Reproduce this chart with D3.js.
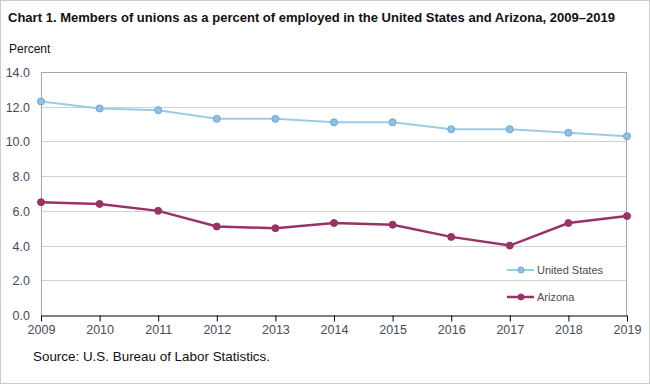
<!DOCTYPE html>
<html>
<head>
<meta charset="utf-8">
<script src="https://cdn.jsdelivr.net/npm/d3@7"></script>
<style>
  body { margin: 0; background: #fff; }
  text { font-family: "Liberation Sans", Arial, sans-serif; }
</style>
</head>
<body>
<script>
// chart data
var years = [2009, 2010, 2011, 2012, 2013, 2014, 2015, 2016, 2017, 2018, 2019];
var unitedStates = [12.3, 11.9, 11.8, 11.3, 11.3, 11.1, 11.1, 10.7, 10.7, 10.5, 10.3];
var arizona = [6.5, 6.4, 6.0, 5.1, 5.0, 5.3, 5.2, 4.5, 4.0, 5.3, 5.7];
var yTicks = [0, 2, 4, 6, 8, 10, 12, 14];
var seriesNames = ["United States", "Arizona"];

var width = 650, height = 384;
var svg = d3.select("body").append("svg")
    .attr("width", width)
    .attr("height", height);

// outer frame
svg.append("rect")
    .attr("x", 0.5).attr("y", 0.5)
    .attr("width", width - 1).attr("height", height - 1)
    .attr("fill", "#fff")
    .attr("stroke", "#c9cec9");

var x = d3.scalePoint().domain(years).range([41, 627]);
var y = d3.scaleLinear().domain([0, 14]).range([315, 72]);

// gridlines
svg.append("g").selectAll("line")
    .data(yTicks.slice(1))
    .enter().append("line")
    .attr("x1", 41).attr("x2", 627)
    .attr("y1", function (d) { return Math.round(y(d)) + 0.5; })
    .attr("y2", function (d) { return Math.round(y(d)) + 0.5; })
    .attr("stroke", function (d) { return d == 14 ? "#a3ada3" : "#cfd3cf"; });

// left and right plot borders
svg.append("line")
    .attr("x1", 41.5).attr("x2", 41.5).attr("y1", 72).attr("y2", 315)
    .attr("stroke", "#a3ada3");
svg.append("line")
    .attr("x1", 626.5).attr("x2", 626.5).attr("y1", 72).attr("y2", 315)
    .attr("stroke", "#a3ada3");

// y axis labels
svg.append("g").selectAll("text")
    .data(yTicks)
    .enter().append("text")
    .attr("x", 30)
    .attr("y", function (d) { return y(d) + 5; })
    .attr("text-anchor", "end")
    .attr("font-size", 12.5)
    .attr("fill", "#4a4a5a")
    .text(function (d) { return d.toFixed(1); });

// x axis
var xAxis = svg.append("g")
    .attr("transform", "translate(0," + (Math.round(y(0)) + 0.5) + ")")
    .call(d3.axisBottom(x).tickSize(6).tickPadding(4).tickSizeOuter(0));
xAxis.select(".domain").attr("stroke", "#000");
xAxis.selectAll(".tick line").attr("stroke", "#000");
xAxis.selectAll(".tick text")
    .attr("font-size", 12.5)
    .attr("fill", "#4a4a5a")
    .attr("font-family", "Liberation Sans, Arial, sans-serif");

var series = [
    { name: seriesNames[0], values: unitedStates, line: "#9ccbe8", fill: "#8ec0e4", stroke: "#6aa6d6", width: 2 },
    { name: seriesNames[1], values: arizona, line: "#993366", fill: "#993366", stroke: "#993366", width: 2.5 }
];

var line = d3.line()
    .x(function (d, i) { return x(years[i]); })
    .y(function (d) { return y(d); });

series.forEach(function (s) {
    svg.append("path")
        .datum(s.values)
        .attr("fill", "none")
        .attr("stroke", s.line)
        .attr("stroke-width", s.width)
        .attr("d", line);
    svg.append("g").selectAll("circle")
        .data(s.values)
        .enter().append("circle")
        .attr("cx", function (d, i) { return x(years[i]); })
        .attr("cy", function (d) { return y(d); })
        .attr("r", 3.5)
        .attr("fill", s.fill)
        .attr("stroke", s.stroke)
        .attr("stroke-width", 1);
});

// legend
var legend = svg.append("g").selectAll("g")
    .data(series)
    .enter().append("g")
    .attr("transform", function (d, i) { return "translate(507," + (270 + i * 27) + ")"; });
legend.append("line")
    .attr("x1", 0).attr("x2", 27)
    .attr("stroke", function (d) { return d.line; })
    .attr("stroke-width", function (d) { return d.width; });
legend.append("circle")
    .attr("cx", 14).attr("r", 3)
    .attr("fill", function (d) { return d.fill; })
    .attr("stroke", function (d) { return d.stroke; });
legend.append("text")
    .attr("x", 30).attr("y", 4)
    .attr("font-size", 11)
    .attr("fill", "#4a4a5a")
    .text(function (d) { return d.name; });

// title, units, source
svg.append("text")
    .attr("x", 8).attr("y", 22)
    .attr("font-size", 13.5)
    .attr("font-weight", "bold")
    .attr("fill", "#111")
    .attr("textLength", 607)
    .attr("lengthAdjust", "spacingAndGlyphs")
    .text("Chart 1. Members of unions as a percent of employed in the United  States and Arizona, 2009\u20132019");
svg.append("text")
    .attr("x", 9).attr("y", 53)
    .attr("font-size", 12)
    .attr("fill", "#111")
    .text("Percent");
svg.append("text")
    .attr("x", 33).attr("y", 361)
    .attr("font-size", 13)
    .attr("fill", "#111")
    .attr("textLength", 237)
    .attr("lengthAdjust", "spacingAndGlyphs")
    .text("Source:  U.S. Bureau  of Labor  Statistics.");
</script>
</body>
</html>
